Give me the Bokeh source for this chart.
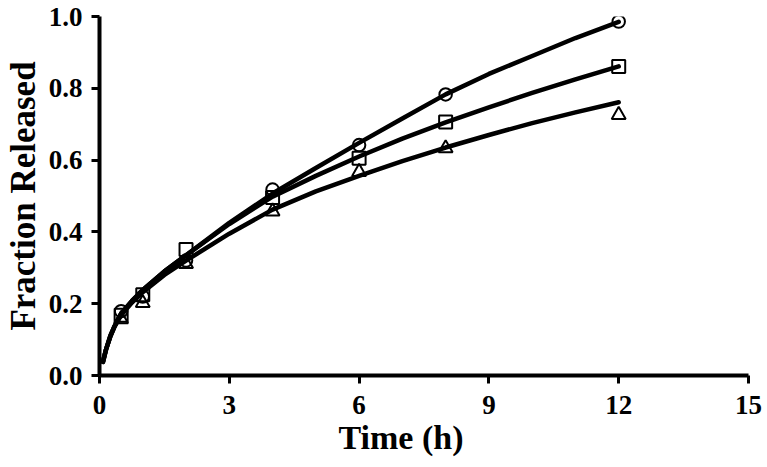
from bokeh.plotting import figure
from bokeh.models import Range1d, FixedTicker, NumeralTickFormatter, Title
from bokeh.embed import file_html
from bokeh.resources import INLINE

# Measured release data (fraction released vs time, h)
time_points = [0.5, 1, 2, 4, 6, 8, 12]
circle_values = [0.179, 0.22, 0.32, 0.518, 0.642, 0.783, 0.986]
square_values = [0.168, 0.225, 0.351, 0.496, 0.605, 0.706, 0.861]
triangle_values = [0.157, 0.202, 0.311, 0.457, 0.567, 0.633, 0.726]

# Fitted curves
curve_time = [0.08, 0.15, 0.25, 0.35, 0.5, 0.75, 1, 1.5, 2, 3, 4, 5, 6, 7, 8, 9, 10, 11, 12]
circle_curve = [0.038, 0.072, 0.11, 0.138, 0.172, 0.208, 0.238, 0.29, 0.335, 0.425, 0.507,
                0.578, 0.648, 0.716, 0.783, 0.84, 0.89, 0.94, 0.985]
square_curve = [0.038, 0.072, 0.11, 0.138, 0.172, 0.208, 0.238, 0.29, 0.335, 0.422, 0.498,
                0.556, 0.61, 0.66, 0.705, 0.747, 0.787, 0.825, 0.861]
triangle_curve = [0.038, 0.072, 0.108, 0.136, 0.168, 0.203, 0.232, 0.28, 0.32, 0.395, 0.462,
                  0.513, 0.556, 0.597, 0.635, 0.67, 0.703, 0.733, 0.761]

x_ticks = [0, 3, 6, 9, 12, 15]
y_ticks = [0.0, 0.2, 0.4, 0.6, 0.8, 1.0]
x_title = "Time (h)"
y_title = "Fraction Released"

FONT = "Liberation Serif"

p = figure(width=762, height=462, output_backend="svg", toolbar_location=None,
           x_range=Range1d(0, 15), y_range=Range1d(0, 1),
           min_border_left=99, min_border_right=14, min_border_top=16, min_border_bottom=87)
p.outline_line_color = None
p.xgrid.visible = False
p.ygrid.visible = False
p.background_fill_color = "white"
p.border_fill_color = "white"

# markers (open), drawn first so lines sit on top
p.scatter(time_points, circle_values, marker="circle", size=12.5, fill_color=None,
          line_color="black", line_width=2)
p.scatter(time_points, square_values, marker="square", size=13, fill_color=None,
          line_color="black", line_width=2)
p.scatter(time_points, triangle_values, marker="triangle", size=14, fill_color=None,
          line_color="black", line_width=2)

for c in (circle_curve, square_curve, triangle_curve):
    p.line(curve_time, c, line_color="black", line_width=4.5, line_join="round", line_cap="round")

for ax in (p.xaxis[0], p.yaxis[0]):
    ax.axis_line_width = 4
    ax.axis_line_color = "black"
    ax.major_tick_line_width = 3
    ax.major_tick_line_color = "black"
    ax.major_tick_in = 0
    ax.major_tick_out = 8
    ax.minor_tick_line_color = None
    ax.major_label_text_font = FONT
    ax.major_label_text_font_style = "bold"
    ax.major_label_text_font_size = "27px"
    ax.major_label_text_color = "black"
    ax.axis_label_text_font = FONT
    ax.axis_label_text_font_style = "bold"
    ax.axis_label_text_color = "black"

p.xaxis.ticker = FixedTicker(ticks=x_ticks)
p.yaxis.ticker = FixedTicker(ticks=y_ticks)
p.yaxis.formatter = NumeralTickFormatter(format="0.0")
p.xaxis.major_label_standoff = 12
p.yaxis.major_label_standoff = 9
p.yaxis.axis_label = y_title
p.yaxis.axis_label_text_font_size = "35px"
p.yaxis.axis_label_standoff = 3

xt = Title(text=x_title, align="left", offset=239, standoff=0,
           text_font=FONT, text_font_style="bold", text_font_size="34px",
           text_color="black")
p.add_layout(xt, "below")

open("out.html", "w").write(file_html(p, INLINE))
